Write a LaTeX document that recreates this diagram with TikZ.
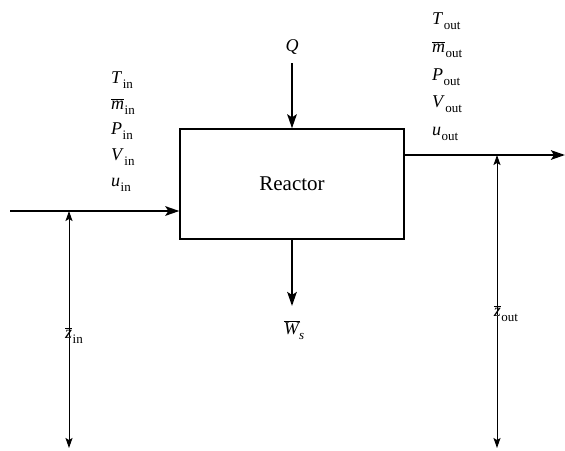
\documentclass[tikz,border=0pt]{standalone}
\usepackage{fontspec}
\setmainfont{Liberation Serif}
\usetikzlibrary{arrows.meta}
\newcommand\obar[1]{\ensuremath{\overline{\hbox{#1}}}}
\newcommand\lab[2]{\textit{#1}\kern0.5pt\raisebox{-0.28em}{\fontsize{13}{13}\selectfont #2}}
\begin{document}
\begin{tikzpicture}[x=1pt,y=-1pt,
  lbl/.style={inner sep=0pt,font=\fontsize{18}{20}\selectfont,anchor=base west},
  flow/.style={line width=2.3pt,-{Stealth[length=14pt,width=9.5pt,inset=3pt]}},
  dim/.style={line width=1pt,-{Stealth[length=10pt,width=7pt,inset=2pt]}},
  box/.style={draw,line width=1.3pt,minimum width=224pt,minimum height=110pt,inner sep=0pt,font=\fontsize{21}{24}\selectfont}]
\useasboundingbox (0,0) rectangle (565,450);
\node[box] (reactor) at (292,184) {Reactor};
% inputs labels
\node[lbl] (tin) at (111,83) {\lab{T}{in}};
\node[lbl] (min) at (111,109) {\lab{\obar{\textit{m}}}{in}};
\node[lbl] (pin) at (111,134.5) {\lab{P}{in}};
\node[lbl] (vin) at (111,160) {\lab{V}{in}};
\node[lbl] (uin) at (111,186) {\lab{u}{in}};
% output labels
\node[lbl] (tout) at (432,24) {\lab{T}{out}};
\node[lbl] (mout) at (432,52) {\lab{\obar{\textit{m}}}{out}};
\node[lbl] (pout) at (432,80) {\lab{P}{out}};
\node[lbl] (vout) at (432,107) {\lab{V}{out}};
\node[lbl] (uout) at (432,135) {\lab{u}{out}};
% Q and W
\node[inner sep=0pt,font=\fontsize{18}{20}\selectfont] (q) at (292,47) {\textit{Q}};
\node[inner sep=0pt,font=\fontsize{18}{20}\selectfont,anchor=base] (ws) at (294,334) {\obar{\textit{W}}\kern-1pt\raisebox{-0.28em}{\fontsize{13}{13}\selectfont\textit{s}}};
\draw[flow] ([yshift=-16pt]q.center) -- (reactor.north);
\draw[flow] (reactor.south) -- (reactor.south |- 0,306);
% in/out flows
\coordinate (inL) at (10,211);
\coordinate (outR) at (565,155);
\draw[flow] (inL) -- (inL -| reactor.west);
\draw[flow] (reactor.east |- outR) -- (outR);
% elevations
\coordinate (zinTop) at (69,211);
\coordinate (zinBot) at (69,448);
\node[inner sep=0pt,font=\fontsize{18}{20}\selectfont,anchor=base] (zin) at (74,338) {\lab{\obar{\textit{z}}}{in}};
\draw[dim] ([yshift=-9pt]zin.north -| zinTop) -- (zinTop);
\draw[dim] ([yshift=5pt]zin.south -| zinBot) -- (zinBot);
\coordinate (zoutTop) at (497,155);
\coordinate (zoutBot) at (497,448);
\node[inner sep=0pt,font=\fontsize{18}{20}\selectfont,anchor=base] (zout) at (506,316) {\lab{\obar{\textit{z}}}{out}};
\draw[dim] ([yshift=-9pt]zout.north -| zoutTop) -- (zoutTop);
\draw[dim] ([yshift=5pt]zout.south -| zoutBot) -- (zoutBot);
\end{tikzpicture}
\end{document}
